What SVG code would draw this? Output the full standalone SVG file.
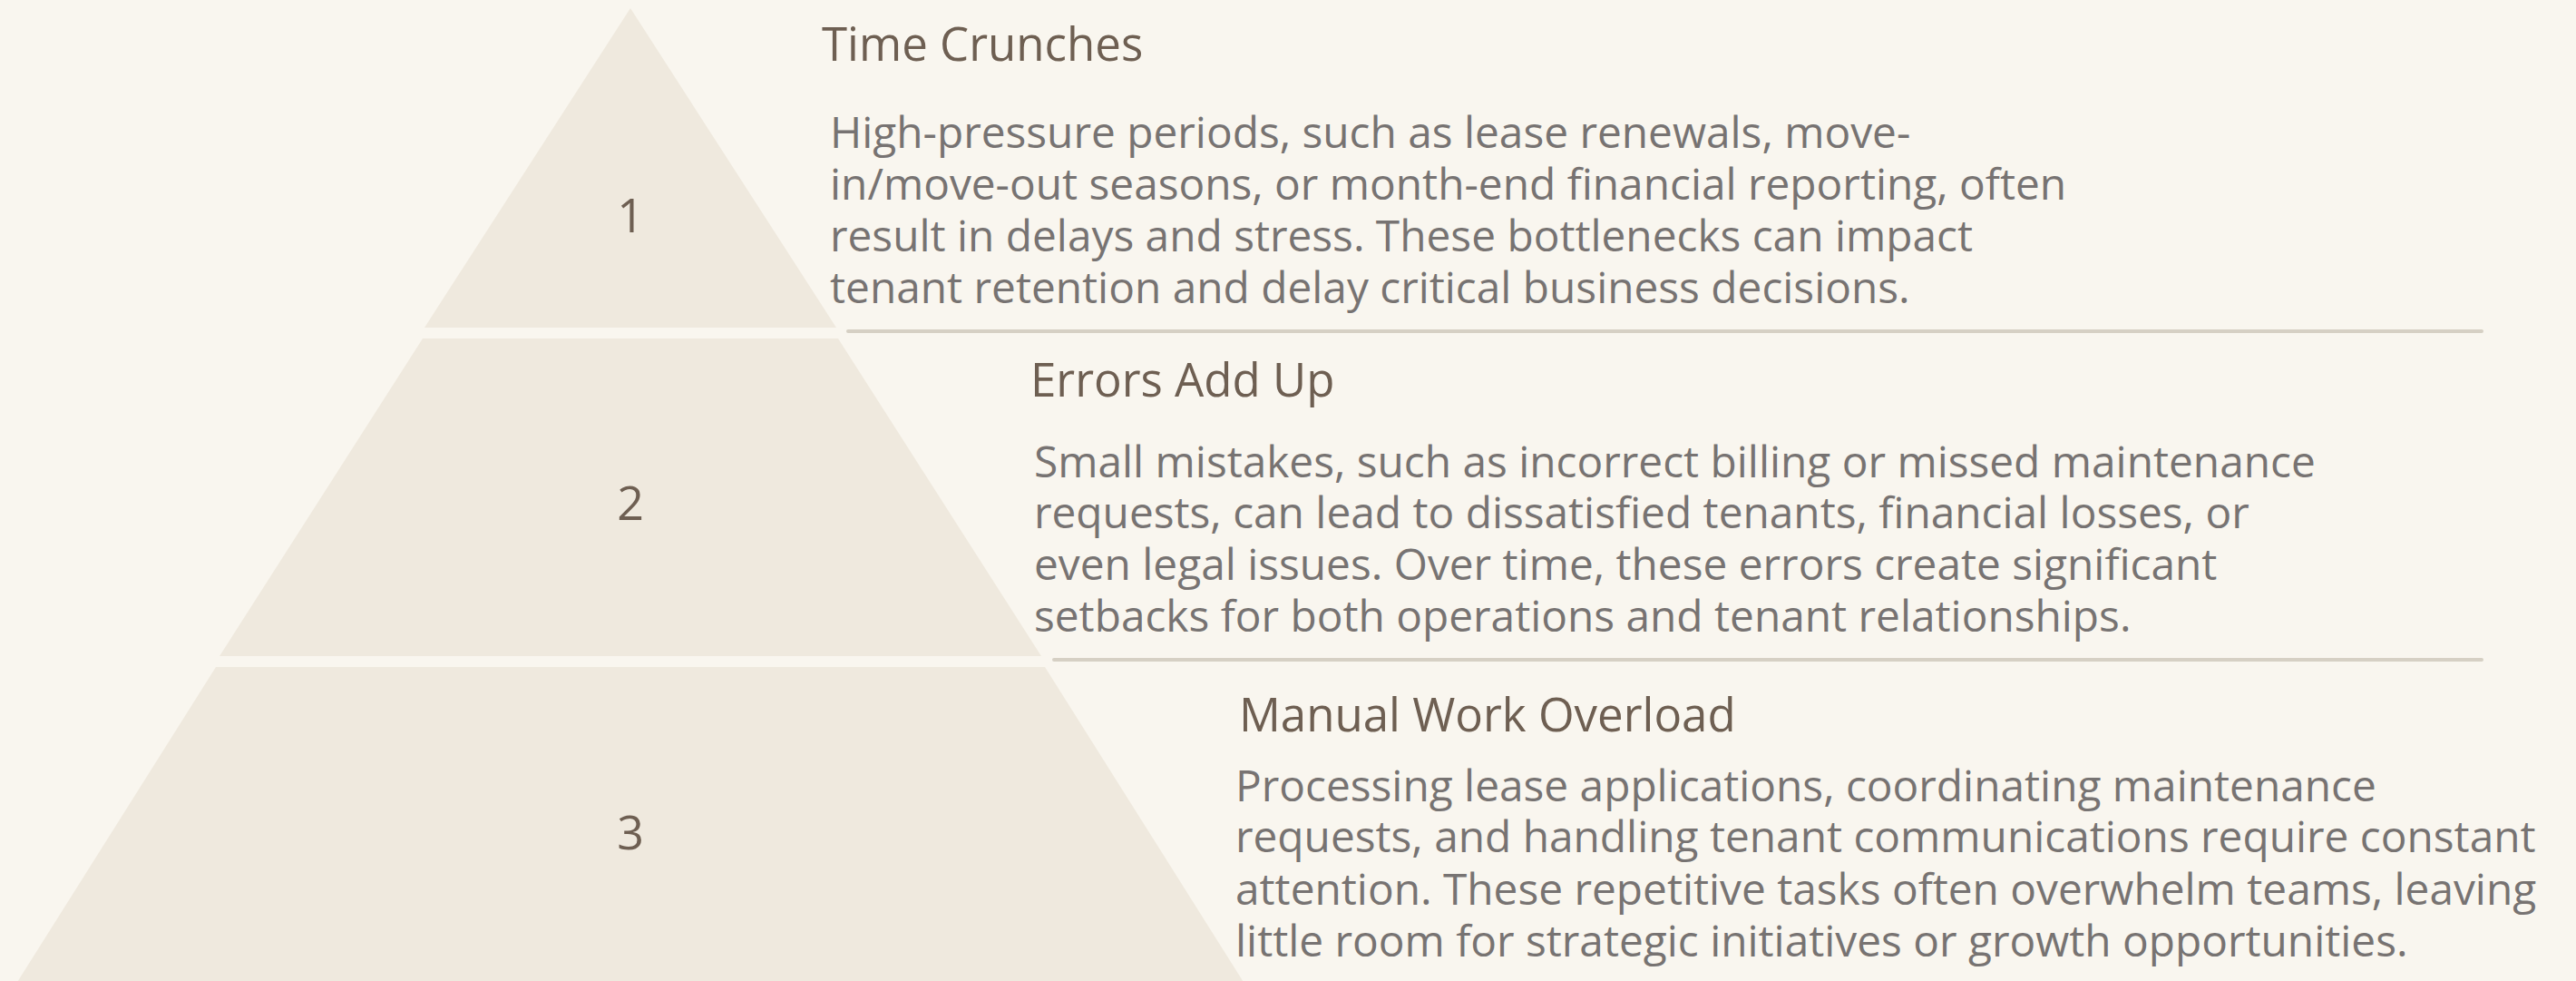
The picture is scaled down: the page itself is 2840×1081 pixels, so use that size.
<svg xmlns="http://www.w3.org/2000/svg" width="2840" height="1081" viewBox="0 0 2840 1081">
<style>
.tier{fill:#efe9de}
.num{font-family:"Open Sans",sans-serif;font-size:52px;fill:#6e5f52;text-anchor:middle}
.title{font-family:"Open Sans",sans-serif;font-size:51px;fill:#6e5f52}
.body{font-family:"Open Sans",sans-serif;font-size:47.8px;fill:#777372}
.div{stroke:#d6d0c4;stroke-width:4;stroke-linecap:round;fill:none}
</style>
<rect width="2840" height="1081" fill="#f9f6ef"/>
<g id="tier1">
<polygon class="tier" points="695,9 922,361 468,361"/>
<text class="num" x="695" y="256">1</text>
<text class="title" x="906" y="67">Time Crunches</text>
<text class="body"><tspan x="915" y="163">High-pressure periods, such as lease renewals, move-</tspan><tspan x="915" y="220">in/move-out seasons, or month-end financial reporting, often</tspan><tspan x="915" y="277">result in delays and stress. These bottlenecks can impact</tspan><tspan x="915" y="334">tenant retention and delay critical business decisions.</tspan></text>
</g>
<g id="tier2">
<polygon class="tier" points="466,373 924,373 1148,723 242,723"/>
<text class="num" x="695" y="573">2</text>
<text class="title" x="1136" y="437">Errors Add Up</text>
<text class="body"><tspan x="1140" y="526">Small mistakes, such as incorrect billing or missed maintenance</tspan><tspan x="1140" y="582">requests, can lead to dissatisfied tenants, financial losses, or</tspan><tspan x="1140" y="639">even legal issues. Over time, these errors create significant</tspan><tspan x="1140" y="696">setbacks for both operations and tenant relationships.</tspan></text>
</g>
<g id="tier3">
<polygon class="tier" points="238,735 1152,735 1374,1087 16,1087"/>
<text class="num" x="695" y="936">3</text>
<text class="title" x="1366" y="806">Manual Work Overload</text>
<text class="body"><tspan x="1362" y="883">Processing lease applications, coordinating maintenance</tspan><tspan x="1362" y="939">requests, and handling tenant communications require constant</tspan><tspan x="1362" y="997">attention. These repetitive tasks often overwhelm teams, leaving</tspan><tspan x="1362" y="1054">little room for strategic initiatives or growth opportunities.</tspan></text>
</g>
<g id="connectors">
<line class="div" x1="935" y1="365" x2="2736" y2="365"/>
<line class="div" x1="1162" y1="727" x2="2736" y2="727"/>
</g>
</svg>
